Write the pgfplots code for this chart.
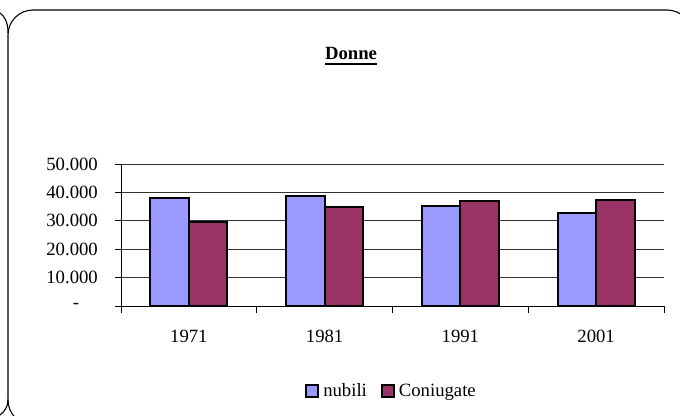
\documentclass[border=0pt]{standalone}
\usepackage{fontspec}
\setmainfont{Liberation Serif}
\usepackage{pgfplots}
\pgfplotsset{compat=1.18}
\definecolor{nub}{HTML}{9999FF}
\definecolor{con}{HTML}{993366}
\newcommand\fs{\fontsize{18.7bp}{22bp}\selectfont}
\newcommand\ul[1]{\setbox0\hbox{#1}\rlap{\rule[-4.8bp]{\wd0}{1.6bp}}\box0}
\begin{document}
\begin{tikzpicture}[x=1bp,y=1bp]
\useasboundingbox (0,0) rectangle (680,415);
\draw[line width=1.1bp, rounded corners=25bp] (8,-10) rectangle (692,405);
\draw[line width=1.1bp] (8,382) .. controls (8,394) and (4,399) .. (0,402);
\draw[line width=1.1bp] (8,15) .. controls (8,8) and (4,3) .. (0,0);
\begin{axis}[
  at={(121bp,109bp)}, anchor=south west,
  scale only axis, width=543bp, height=142bp,
  ymin=0, ymax=50000, xmin=-0.5, xmax=3.5,
  ybar=0pt, bar width=38.5bp,
  axis x line*=bottom, axis y line*=left,
  axis line style={black, line width=0.9bp},
  scaled y ticks=false,
  ytick={0,10000,20000,30000,40000,50000},
  yticklabels={-\hphantom{00},10.000,20.000,30.000,40.000,50.000},
  ymajorgrids, grid style={black!80, line width=0.8bp},
  xtick={0,1,2,3}, xticklabels={1971,1981,1991,2001},
  minor xtick={-0.5,0.5,1.5,2.5,3.5},
  major x tick style={draw=none},
  minor tick length=7bp, major tick length=6bp,
  tick align=outside,
  tick style={black, line width=0.9bp},
  tick label style={font=\fs},
  yticklabel style={anchor=east, inner sep=0pt, xshift=-17bp},
  xticklabel style={anchor=north, inner sep=0pt, yshift=-18bp},
  legend style={at={(0.5,-0.6)}, anchor=center, draw=none, fill=none, font=\fs,
    legend columns=-1, /tikz/every even column/.append style={column sep=10bp},
    nodes={inner xsep=4bp}},
  legend image code/.code={\draw[#1, line width=2bp] (0bp,-6bp) rectangle (12bp,6bp);},
]
\addplot[fill=nub, draw=black, line width=2bp] coordinates {(0,37900) (1,38700) (2,35200) (3,32900)};
\addplot[fill=con, draw=black, line width=2bp] coordinates {(0,29700) (1,34900) (2,36900) (3,37400)};
\legend{nubili,Coniugate}
\end{axis}
\node[font=\bfseries\fs] at (351,359) {\ul{Donne}};
\end{tikzpicture}
\end{document}
